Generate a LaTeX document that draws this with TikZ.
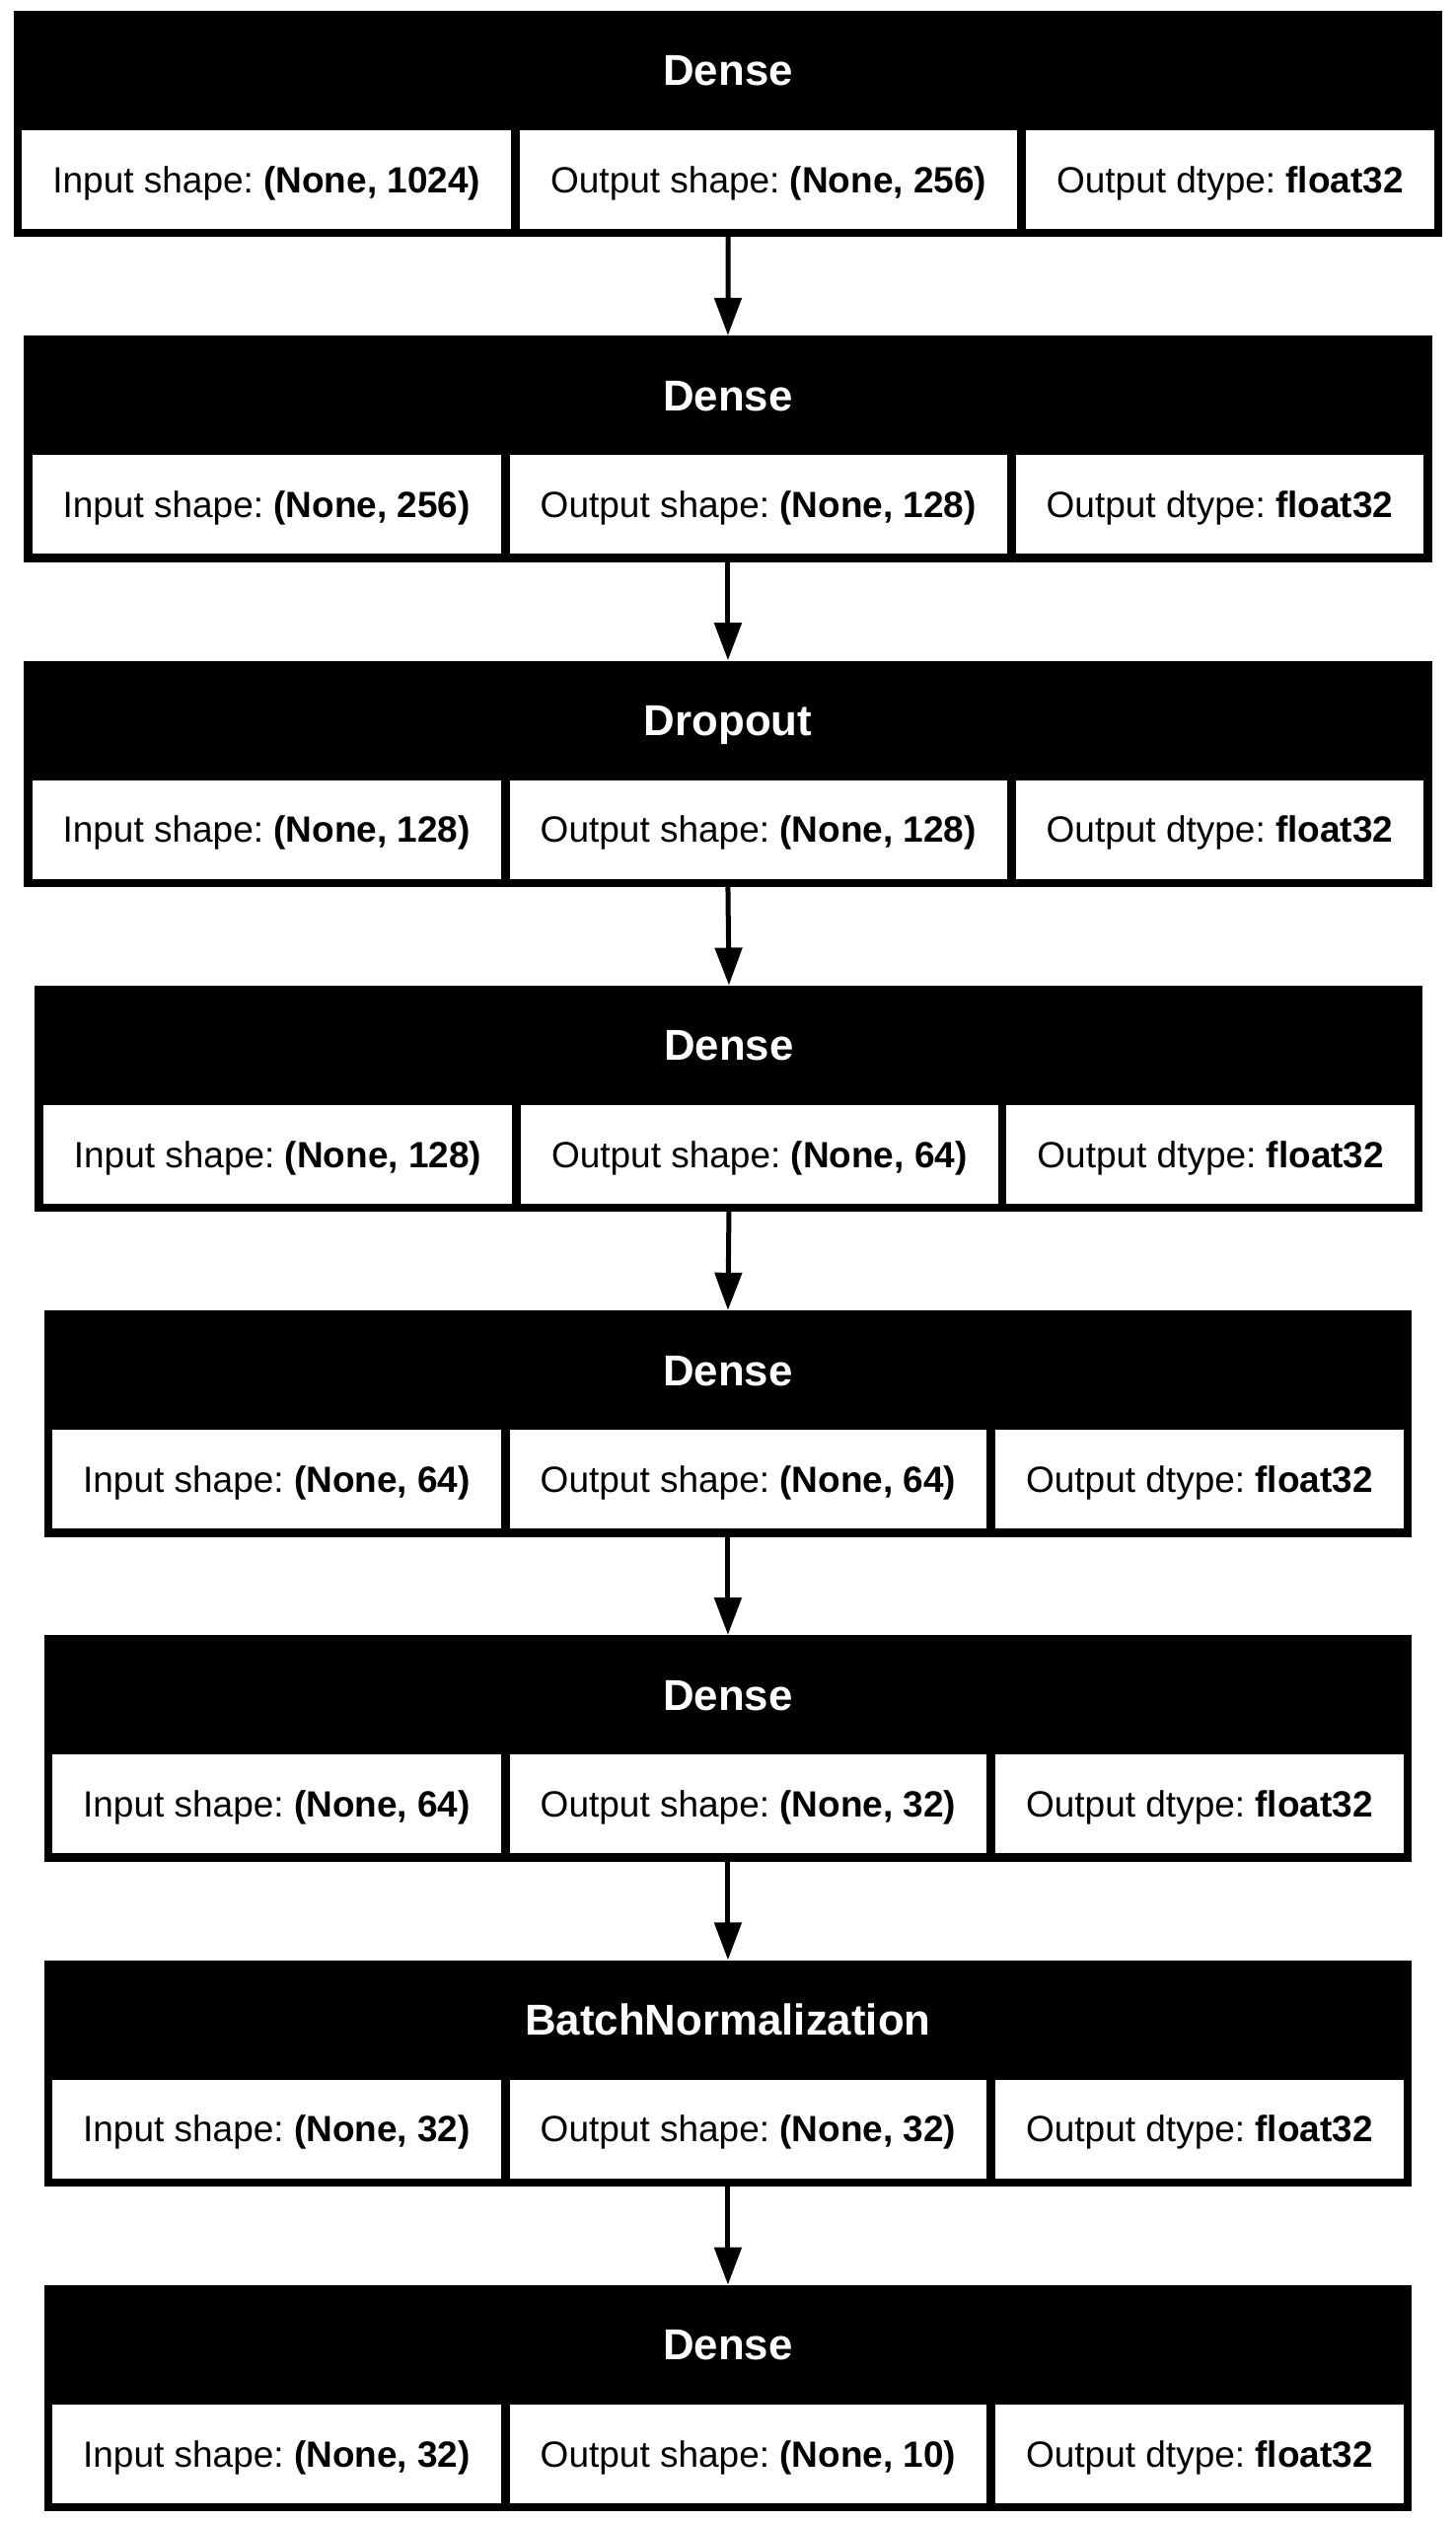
\documentclass[tikz,border=0pt]{standalone}
\usepackage{fontspec}
\setmainfont{Liberation Sans}
\usepackage{xcolor}
\usepackage{tikz}
\usetikzlibrary{positioning,fit,backgrounds,arrows.meta}
\frenchspacing

\begin{document}
\begin{tikzpicture}[x=0.5pt, y=-0.5pt, line cap=round, line join=round,
    cellbox/.style={rectangle, fill=white, text=black, minimum height=50pt,
      inner xsep=15.5pt, inner ysep=0pt, text height=13.25pt, text depth=0pt,
      font=\fontsize{18.5}{22}\selectfont},
    blockbox/.style={rectangle, fill=black, inner sep=4pt},
    headtext/.style={text=white, inner sep=0pt, text height=15.7pt, text depth=0pt,
      font=\fontsize{21.9}{26}\selectfont\bfseries},
    flowarrow/.style={line width=2.5pt, -{Triangle[width=13.5pt, length=19pt]}}]
    \useasboundingbox (0,0) rectangle (1476,2556);

    % Layer 1: Dense
    \node[cellbox] (b1c2) at (779.2,182) {Output shape: \textbf{(None, 256)}};
    \node[cellbox, left=4pt of b1c2] (b1c1) {Input shape: \textbf{(None, 1024)}};
    \node[cellbox, right=4pt of b1c2] (b1c3) {Output dtype: \textbf{float32}};
    \coordinate (b1t) at (738,19);
    \begin{scope}[on background layer]
      \node[blockbox, fit=(b1c1)(b1c3)(b1t)] (b1) {};
    \end{scope}
    \node[headtext] (b1h) at ([yshift=-30.25pt]b1.north) {Dense};

    % Layer 2: Dense
    \node[cellbox] (b2c2) at (768.8,511.3) {Output shape: \textbf{(None, 128)}};
    \node[cellbox, left=4pt of b2c2] (b2c1) {Input shape: \textbf{(None, 256)}};
    \node[cellbox, right=4pt of b2c2] (b2c3) {Output dtype: \textbf{float32}};
    \coordinate (b2t) at (738,348.3);
    \begin{scope}[on background layer]
      \node[blockbox, fit=(b2c1)(b2c3)(b2t)] (b2) {};
    \end{scope}
    \node[headtext] (b2h) at ([yshift=-30.25pt]b2.north) {Dense};

    % Layer 3: Dropout
    \node[cellbox] (b3c2) at (768.8,840.6) {Output shape: \textbf{(None, 128)}};
    \node[cellbox, left=4pt of b3c2] (b3c1) {Input shape: \textbf{(None, 128)}};
    \node[cellbox, right=4pt of b3c2] (b3c3) {Output dtype: \textbf{float32}};
    \coordinate (b3t) at (738,677.6);
    \begin{scope}[on background layer]
      \node[blockbox, fit=(b3c1)(b3c3)(b3t)] (b3) {};
    \end{scope}
    \node[headtext] (b3h) at ([yshift=-30.25pt]b3.north) {Dropout};

    % Layer 4: Dense
    \node[cellbox] (b4c2) at (769.8,1169.9) {Output shape: \textbf{(None, 64)}};
    \node[cellbox, left=4pt of b4c2] (b4c1) {Input shape: \textbf{(None, 128)}};
    \node[cellbox, right=4pt of b4c2] (b4c3) {Output dtype: \textbf{float32}};
    \coordinate (b4t) at (738,1006.9);
    \begin{scope}[on background layer]
      \node[blockbox, fit=(b4c1)(b4c3)(b4t)] (b4) {};
    \end{scope}
    \node[headtext] (b4h) at ([yshift=-30.25pt]b4.north) {Dense};

    % Layer 5: Dense
    \node[cellbox] (b5c2) at (758.5,1499.2) {Output shape: \textbf{(None, 64)}};
    \node[cellbox, left=4pt of b5c2] (b5c1) {Input shape: \textbf{(None, 64)}};
    \node[cellbox, right=4pt of b5c2] (b5c3) {Output dtype: \textbf{float32}};
    \coordinate (b5t) at (738,1336.2);
    \begin{scope}[on background layer]
      \node[blockbox, fit=(b5c1)(b5c3)(b5t)] (b5) {};
    \end{scope}
    \node[headtext] (b5h) at ([yshift=-30.25pt]b5.north) {Dense};

    % Layer 6: Dense
    \node[cellbox] (b6c2) at (758.5,1828.4) {Output shape: \textbf{(None, 32)}};
    \node[cellbox, left=4pt of b6c2] (b6c1) {Input shape: \textbf{(None, 64)}};
    \node[cellbox, right=4pt of b6c2] (b6c3) {Output dtype: \textbf{float32}};
    \coordinate (b6t) at (738,1665.4);
    \begin{scope}[on background layer]
      \node[blockbox, fit=(b6c1)(b6c3)(b6t)] (b6) {};
    \end{scope}
    \node[headtext] (b6h) at ([yshift=-30.25pt]b6.north) {Dense};

    % Layer 7: BatchNormalization
    \node[cellbox] (b7c2) at (758.5,2157.7) {Output shape: \textbf{(None, 32)}};
    \node[cellbox, left=4pt of b7c2] (b7c1) {Input shape: \textbf{(None, 32)}};
    \node[cellbox, right=4pt of b7c2] (b7c3) {Output dtype: \textbf{float32}};
    \coordinate (b7t) at (738,1994.7);
    \begin{scope}[on background layer]
      \node[blockbox, fit=(b7c1)(b7c3)(b7t)] (b7) {};
    \end{scope}
    \node[headtext] (b7h) at ([yshift=-30.25pt]b7.north) {BatchNormalization};

    % Layer 8: Dense
    \node[cellbox] (b8c2) at (758.5,2487.0) {Output shape: \textbf{(None, 10)}};
    \node[cellbox, left=4pt of b8c2] (b8c1) {Input shape: \textbf{(None, 32)}};
    \node[cellbox, right=4pt of b8c2] (b8c3) {Output dtype: \textbf{float32}};
    \coordinate (b8t) at (738,2324.0);
    \begin{scope}[on background layer]
      \node[blockbox, fit=(b8c1)(b8c3)(b8t)] (b8) {};
    \end{scope}
    \node[headtext] (b8h) at ([yshift=-30.25pt]b8.north) {Dense};

    % Connections
    \draw[flowarrow] (b1.south) -- (b2.north);
    \draw[flowarrow] (b2.south) -- (b3.north);
    \draw[flowarrow] (b3.south) -- (b4.north);
    \draw[flowarrow] (b4.south) -- (b5.north);
    \draw[flowarrow] (b5.south) -- (b6.north);
    \draw[flowarrow] (b6.south) -- (b7.north);
    \draw[flowarrow] (b7.south) -- (b8.north);
  \end{tikzpicture}
\end{document}
